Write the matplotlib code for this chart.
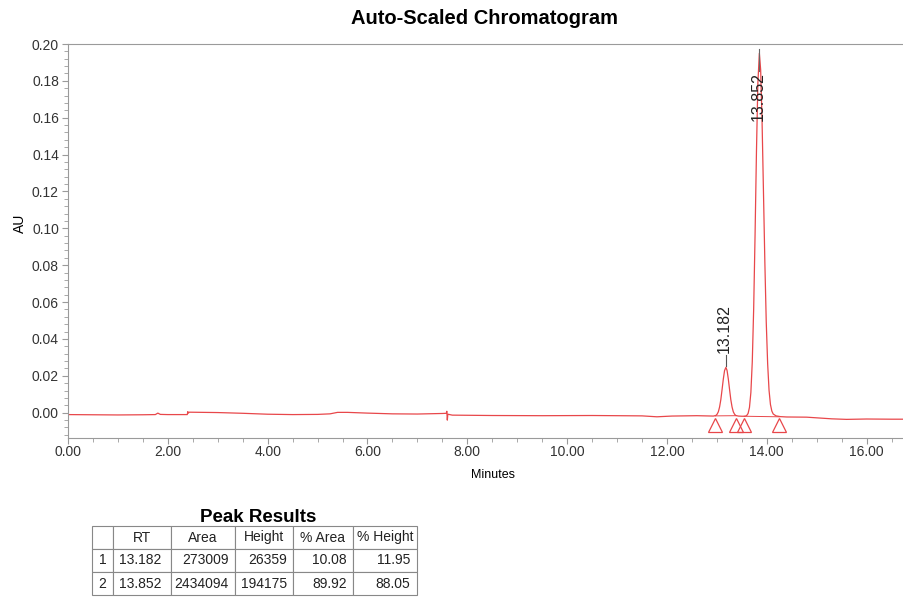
import numpy as np
import matplotlib
matplotlib.use("Agg")
import matplotlib.pyplot as plt
from matplotlib.ticker import MultipleLocator, FixedLocator, FormatStrFormatter

plt.rcParams['font.family'] = ['Liberation Sans', 'DejaVu Sans']

# chromatogram trace (minutes, AU)
t = [0.0, 0.5, 1.0, 1.5, 1.75, 1.80, 1.85, 2.0, 2.39, 2.40, 2.41, 2.43,
     3.0, 3.5, 4.0, 4.5, 5.0, 5.25, 5.4, 5.6, 6.0, 6.5, 7.0, 7.5,
     7.58, 7.59, 7.60, 7.61, 7.7, 8.5, 9.5, 10.5, 11.5, 11.8, 12.1, 12.6,
     12.93, 12.98, 13.005, 13.03, 13.055, 13.08, 13.105, 13.13, 13.155, 13.182,
     13.205, 13.23, 13.255, 13.28, 13.305, 13.33, 13.355, 13.38, 13.43, 13.5,
     13.54, 13.57, 13.598, 13.626, 13.654, 13.682, 13.71, 13.738, 13.766, 13.794,
     13.822, 13.852, 13.878, 13.906, 13.934, 13.962, 13.99, 14.018, 14.046, 14.074,
     14.102, 14.13, 14.186, 14.27, 14.4, 14.8, 15.3, 15.6, 16.0, 16.5, 16.75]
au = [-0.0010, -0.0011, -0.0012, -0.0011, -0.0010, -0.0002, -0.0009, -0.0010,
      -0.0010, 0.0006, -0.0002, 0.0003,
      0.0001, -0.0003, -0.0008, -0.0010, -0.0009, -0.0006, 0.0002, 0.0002,
      -0.0002, -0.0006, -0.0007, -0.0004,
      -0.0003, 0.0008, -0.0040, -0.0008, -0.0013, -0.0015, -0.0016, -0.0015,
      -0.0017, -0.0022, -0.0018, -0.0016,
      -0.0018, -0.0015, -0.0008, 0.0005, 0.0031, 0.0071, 0.0126, 0.0183, 0.0229, 0.0246,
      0.0229, 0.0183, 0.0126, 0.0071, 0.0031, 0.0005, -0.0008, -0.0015, -0.0018, -0.0019,
      -0.0019, -0.0019, -0.0015, -0.0004, 0.0029, 0.0110, 0.0276, 0.0563, 0.0965, 0.1418,
      0.1787, 0.1950, 0.1860, 0.1584, 0.1201, 0.0817, 0.0492, 0.0266, 0.0122, 0.0045,
      0.0009, -0.0007, -0.0017, -0.0021, -0.0023, -0.0024, -0.0033, -0.0036, -0.0034,
      -0.0035, -0.0035]

peak_rt = [13.182, 13.852]
peak_start = [12.97, 13.55]
peak_end = [13.38, 14.25]
base_start = [-0.0017, -0.0019]
base_end = [-0.0016, -0.0022]

# peak table
col_labels = ["", "RT", "Area", "Height", "% Area", "% Height"]
rows = [["1", "13.182", "273009", "26359", "10.08", "11.95"],
        ["2", "13.852", "2434094", "194175", "89.92", "88.05"]]

red = '#e8474a'
grey = '#9a9a9a'

fig = plt.figure(figsize=(9.04, 6.08), dpi=100)
ax = fig.add_axes([68/904, 1 - 438/608, 1 - 68/904, (438 - 44)/608])

ax.plot(t, au, color=red, lw=0.9)
for s, e, bs, be in zip(peak_start, peak_end, base_start, base_end):
    ax.plot([s, e], [bs, be], color=red, lw=0.7)
marks = peak_start + peak_end
ax.plot(marks, [-0.0065] * len(marks), ls='none', marker='^', ms=10,
        mfc='none', mec=red, mew=0.9)

# peak labels
ax.plot([peak_rt[0], peak_rt[0]], [0.0255, 0.0315], color='#555555', lw=0.8)
ax.text(peak_rt[0] - 0.03, 0.0325, "13.182", rotation=90, ha='center', va='bottom',
        fontsize=11.5, color='#222222')
ax.plot([peak_rt[1], peak_rt[1]], [0.1855, 0.1975], color='#666666', lw=0.8)
ax.text(peak_rt[1] - 0.03, 0.1845, "13.852", rotation=90, ha='center', va='top',
        fontsize=11.5, color='#222222')

ax.set_xlim(0, 16.75)
ax.set_ylim(-0.0137, 0.20)
ax.xaxis.set_major_locator(MultipleLocator(2))
ax.xaxis.set_minor_locator(MultipleLocator(0.5))
ax.xaxis.set_major_formatter(FormatStrFormatter('%.2f'))
ax.yaxis.set_major_locator(FixedLocator(np.arange(0, 0.201, 0.02)))
ax.yaxis.set_minor_locator(MultipleLocator(0.004))
ax.yaxis.set_major_formatter(FormatStrFormatter('%.2f'))

for side in ['left', 'bottom', 'top']:
    ax.spines[side].set_color(grey)
ax.spines['right'].set_visible(False)
ax.tick_params(which='major', length=4.5, color=grey, labelsize=10, labelcolor='#333333', pad=2)
ax.tick_params(axis='x', which='major', pad=0.5)
ax.tick_params(which='minor', length=3, color=grey)

fig.text(485/904, 1 - 18/608, "Auto-Scaled Chromatogram", ha='center', va='center',
         fontsize=14.5, fontweight='bold')
fig.text(493/904, 1 - 475/608, "Minutes", ha='center', va='center', fontsize=9)
fig.text(20/904, 1 - 223/608, "AU", ha='center', va='center', rotation=90, fontsize=10)

# table
fig.text(258/904, 1 - 517/608, "Peak Results", ha='center', va='center',
         fontsize=13.5, fontweight='bold')
tax = fig.add_axes([92/904, 1 - 595/608, (417 - 92)/904, (595 - 526)/608])
tax.axis('off')
widths = np.array([21, 58.4, 63.3, 58.3, 60, 64])
widths = widths / widths.sum()
tbl = tax.table(cellText=rows, colLabels=col_labels, colWidths=list(widths),
                bbox=[0, 0, 1, 1], cellLoc='right')
tbl.auto_set_font_size(False)
for (r, c), cell in tbl.get_celld().items():
    cell.set_edgecolor('#888888')
    cell.set_linewidth(0.8)
    cell.get_text().set_fontsize(10)
    cell.get_text().set_color('#222222')
    if r == 0 or c == 0:
        cell._loc = 'center'
        cell.get_text().set_ha('center')
    elif c == 1:
        cell._loc = 'left'
        cell.get_text().set_ha('left')

fig.savefig("out.png", dpi=100)
